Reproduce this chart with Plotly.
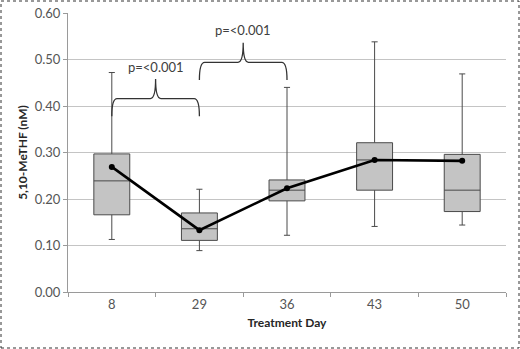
import plotly.graph_objects as go

days = ["8", "29", "36", "43", "50"]
lower_whisker = [0.113, 0.089, 0.122, 0.141, 0.144]
q1 = [0.166, 0.111, 0.196, 0.219, 0.173]
median = [0.239, 0.136, 0.219, 0.284, 0.219]
q3 = [0.297, 0.170, 0.241, 0.321, 0.296]
upper_whisker = [0.472, 0.221, 0.440, 0.538, 0.469]
mean = [0.269, 0.133, 0.223, 0.284, 0.282]

# comparisons: (from index, to index, label, bracket level)
comp_from = [0, 1]
comp_to = [1, 2]
comp_label = ["p=<0.001", "p=<0.001"]
comp_level = [0.416, 0.494]

FONT = "Lato, 'Open Sans', Arial, sans-serif"
xs = list(range(len(days)))

fig = go.Figure()
fig.add_trace(go.Box(
    x=xs, q1=q1, median=median, q3=q3,
    lowerfence=lower_whisker, upperfence=upper_whisker,
    fillcolor="#c4c4c4", line=dict(color="#4a4a4a", width=1),
    width=0.41, whiskerwidth=0.17, boxpoints=False, hoverinfo="skip",
    showlegend=False,
))
fig.add_trace(go.Scatter(
    x=xs, y=mean, mode="lines+markers",
    line=dict(color="black", width=2.6),
    marker=dict(color="black", size=6),
    showlegend=False,
))

W, H = 520, 349
ml, mr, mt, mb = 68, 14, 13, 57
pw, ph = W - ml - mr, H - mt - mb

shapes = []
annotations = []
drop = 0.038
rise = 0.042
dx = 0.06
for a, b, lab, lev in zip(comp_from, comp_to, comp_label, comp_level):
    m = (a + b) / 2
    path = (f"M {a},{lev - drop} Q {a},{lev} {a + dx},{lev} "
            f"L {m - dx},{lev} Q {m},{lev} {m},{lev + rise} "
            f"Q {m},{lev} {m + dx},{lev} L {b - dx},{lev} "
            f"Q {b},{lev} {b},{lev - drop}")
    shapes.append(dict(type="path", path=path, xref="x", yref="y",
                       line=dict(color="#333333", width=1.3)))
    annotations.append(dict(x=m, y=lev + rise + 0.005, xref="x", yref="y",
                            text=lab, showarrow=False, yanchor="bottom",
                            font=dict(family=FONT, size=13, color="#404040")))

# outer dotted frame around whole figure
shapes.append(dict(type="rect", xref="paper", yref="paper",
                   x0=-(ml - 1) / pw, x1=1 + (mr - 1) / pw,
                   y0=-(mb - 1) / ph, y1=1 + (mt - 1) / ph,
                   line=dict(color="#333333", width=1, dash="dot")))

fig.update_layout(
    template="none",
    width=W, height=H,
    margin=dict(l=ml, r=mr, t=mt, b=mb),
    paper_bgcolor="white", plot_bgcolor="white",
    font=dict(family=FONT, size=11, color="#555555"),
    shapes=shapes, annotations=annotations,
    xaxis=dict(
        range=[-0.5, len(days) - 0.5], tickvals=xs, ticktext=days,
        ticks="", showgrid=False, zeroline=False,
        showline=True, linecolor="#9a9a9a", linewidth=1,
        minor=dict(tick0=-0.5, dtick=1, ticks="outside", ticklen=4,
                   tickcolor="#9a9a9a", showgrid=False),
        tickfont=dict(size=13, color="#555555"),
        title=dict(text="<b>Treatment Day</b>", standoff=8,
                   font=dict(size=12, color="#262626")),
    ),
    yaxis=dict(
        range=[0, 0.6], dtick=0.1, tickformat=".2f",
        showgrid=True, gridcolor="#c4c4c4", gridwidth=1,
        zeroline=False, showline=True, linecolor="#9a9a9a", linewidth=1,
        ticks="outside", ticklen=4, tickcolor="#9a9a9a",
        tickfont=dict(size=13, color="#555555"),
        title=dict(text="<b>5,10-MeTHF (nM)</b>", standoff=4,
                   font=dict(size=12, color="#262626")),
    ),
)

fig.write_html("out.html", config={"displayModeBar": False},
               post_script="document.body.style.margin='0';")
